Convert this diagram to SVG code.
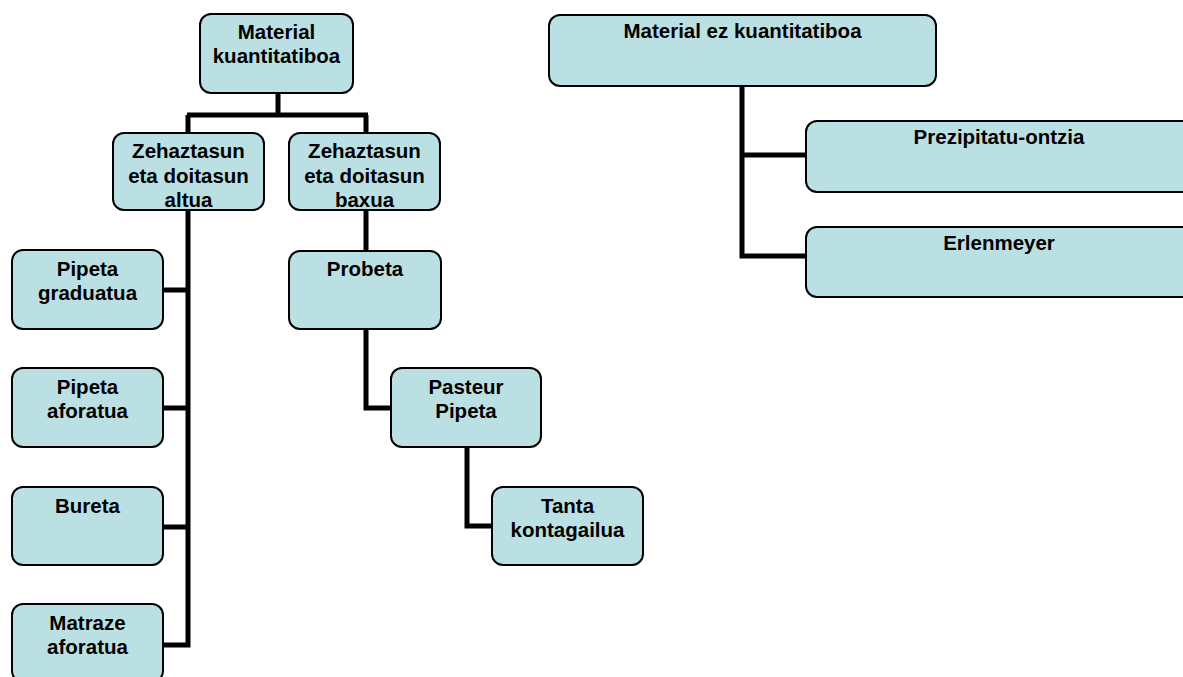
<svg xmlns="http://www.w3.org/2000/svg" width="1183" height="677" viewBox="0 0 1183 677">
<style>
.box{fill:#BBE0E3;stroke:#000;stroke-width:2}
.t{font-family:"Liberation Sans",Arial,sans-serif;font-weight:bold;font-size:20.5px;text-anchor:middle;fill:#000}
.c{fill:none;stroke:#000;stroke-width:5;stroke-linecap:butt;stroke-linejoin:miter}
</style>
<rect width="1183" height="677" fill="#fff"/>
<g id="connectors">
<path class="c" d="M278,93 V115 M187,115 H368 M188,115 V133 M366,115 V133"/>
<path class="c" d="M188,210 V645 H163 M188,290 H163 M188,408 H163 M188,527 H163"/>
<path class="c" d="M366,210 V251"/>
<path class="c" d="M366,329 V408 H391"/>
<path class="c" d="M467,447 V526 H492"/>
<path class="c" d="M742,86 V256 H807 M742,155 H807"/>
</g>
<g id="root"><rect class="box" x="200" y="14" width="153" height="79" rx="11"/><text class="t" x="276.5" y="39">Material</text><text class="t" x="276.5" y="63">kuantitatiboa</text></g>
<g id="altua"><rect class="box" x="113" y="133" width="151" height="77" rx="11"/><text class="t" x="188.5" y="158">Zehaztasun</text><text class="t" x="188.5" y="183">eta doitasun</text><text class="t" x="188.5" y="207">altua</text></g>
<g id="baxua"><rect class="box" x="289" y="133" width="151" height="77" rx="11"/><text class="t" x="364.5" y="158">Zehaztasun</text><text class="t" x="364.5" y="183">eta doitasun</text><text class="t" x="364.5" y="207">baxua</text></g>
<g id="pipeta-graduatua"><rect class="box" x="12" y="250" width="151" height="79" rx="11"/><text class="t" x="87.5" y="276">Pipeta</text><text class="t" x="87.5" y="300">graduatua</text></g>
<g id="pipeta-aforatua"><rect class="box" x="12" y="368" width="151" height="79" rx="11"/><text class="t" x="87.5" y="394">Pipeta</text><text class="t" x="87.5" y="418">aforatua</text></g>
<g id="bureta"><rect class="box" x="12" y="487" width="151" height="78" rx="11"/><text class="t" x="87.5" y="513">Bureta</text></g>
<g id="matraze"><rect class="box" x="12" y="604" width="151" height="78" rx="11"/><text class="t" x="87.5" y="630">Matraze</text><text class="t" x="87.5" y="654">aforatua</text></g>
<g id="probeta"><rect class="box" x="289" y="251" width="152" height="78" rx="11"/><text class="t" x="365" y="276">Probeta</text></g>
<g id="pasteur"><rect class="box" x="391" y="368" width="150" height="79" rx="11"/><text class="t" x="466" y="394">Pasteur</text><text class="t" x="466" y="418">Pipeta</text></g>
<g id="tanta"><rect class="box" x="492" y="487" width="151" height="78" rx="11"/><text class="t" x="567.5" y="513">Tanta</text><text class="t" x="567.5" y="537">kontagailua</text></g>
<g id="ez-kuantitatiboa"><rect class="box" x="549" y="15" width="387" height="71" rx="11"/><text class="t" x="742.5" y="38">Material ez kuantitatiboa</text></g>
<g id="prezipitatu"><rect class="box" x="806" y="121" width="387" height="71" rx="11"/><text class="t" x="999" y="144">Prezipitatu-ontzia</text></g>
<g id="erlenmeyer"><rect class="box" x="806" y="227" width="387" height="70" rx="11"/><text class="t" x="999" y="250">Erlenmeyer</text></g>
</svg>
